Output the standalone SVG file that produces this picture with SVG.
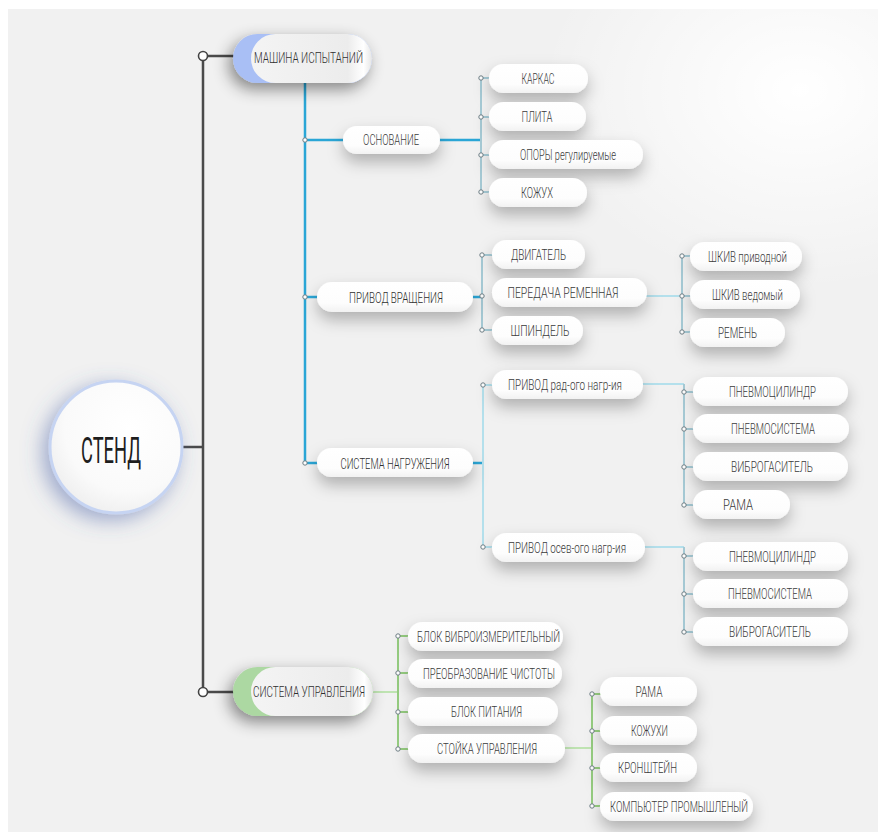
<svg xmlns="http://www.w3.org/2000/svg" width="878" height="832" viewBox="0 0 878 832">
<style>
.t{font-family:Roboto,"Liberation Sans",sans-serif;font-size:14px;font-weight:300;fill:#3a3a3a;text-anchor:middle}
.t1{font-size:15px;fill:#2e2e2e}
.ts{font-size:37px;fill:#1e1e1e;font-weight:400}
.pill{fill:url(#pg);filter:url(#sh)}
.dot{fill:#fff;stroke:#6d7d84;stroke-width:1}
.big{fill:#fff;stroke:#444;stroke-width:1.6}
.main{stroke:#4a4a4a;stroke-width:2.5;fill:none}
.blue{stroke:#2aa6d6;stroke-width:2.5;fill:none}
.lb{stroke:#a6cad5;stroke-width:2;fill:none}
.cy{stroke:#b4e0ec;stroke-width:2;fill:none}
.gr{stroke:#95cc80;stroke-width:2;fill:none}
.lg{stroke:#bfe4b2;stroke-width:2;fill:none}
</style>
<defs>
<linearGradient id="pg" x1="0" y1="0" x2="0" y2="1">
<stop offset="0" stop-color="#ffffff"/>
<stop offset="0.7" stop-color="#fdfdfd"/>
<stop offset="1" stop-color="#f2f2f2"/>
</linearGradient>
<linearGradient id="lg1" x1="0" y1="0" x2="1" y2="0">
<stop offset="0" stop-color="#f4f4f4"/>
<stop offset="0.8" stop-color="#ececec"/>
<stop offset="0.93" stop-color="#ffffff"/>
<stop offset="1" stop-color="#e6e6e6"/>
</linearGradient>
<radialGradient id="cg" cx="0.6" cy="0.35" r="0.7">
<stop offset="0" stop-color="#ffffff"/>
<stop offset="0.7" stop-color="#fafafa"/>
<stop offset="1" stop-color="#eeeeee"/>
</radialGradient>
<radialGradient id="bgGlow" cx="0.5" cy="0.5" r="0.5">
<stop offset="0" stop-color="#ffffff" stop-opacity="1"/>
<stop offset="1" stop-color="#ffffff" stop-opacity="0"/>
</radialGradient>
<filter id="sh" x="-40%" y="-80%" width="180%" height="320%">
<feDropShadow dx="0" dy="8" stdDeviation="8" flood-color="#000" flood-opacity="0.27"/>
</filter>
<filter id="sh1" x="-40%" y="-80%" width="180%" height="300%">
<feDropShadow dx="-4" dy="6" stdDeviation="8" flood-color="#000" flood-opacity="0.45"/>
</filter>
<filter id="shc" x="-50%" y="-50%" width="200%" height="200%">
<feDropShadow dx="-6" dy="6" stdDeviation="10" flood-color="#4a63a8" flood-opacity="0.5"/>
</filter>
</defs>
<rect x="0" y="0" width="878" height="832" fill="#ffffff"/>
<rect x="8" y="9" width="870" height="823" fill="#f1f1f1"/>
<ellipse cx="800" cy="90" rx="260" ry="200" fill="url(#bgGlow)"/>

<g id="connectors">
<line class="main" x1="182" y1="447" x2="203" y2="447"/>
<line class="main" x1="203" y1="56" x2="203" y2="692"/>
<line class="main" x1="203" y1="56" x2="236" y2="56" stroke-width="3"/>
<line class="main" x1="203" y1="692" x2="236" y2="692" stroke-width="3"/>
<line class="blue" x1="305" y1="83" x2="305" y2="463"/>
<line class="blue" x1="305" y1="140" x2="345" y2="140" stroke-width="2"/>
<line class="blue" x1="305" y1="297" x2="319" y2="297" stroke-width="2"/>
<line class="blue" x1="305" y1="463" x2="319" y2="463" stroke-width="2"/>
<line class="blue" x1="438" y1="140" x2="481" y2="140" stroke="#45b2d8" stroke-width="2"/>
<line class="lb" x1="481" y1="78" x2="481" y2="192"/>
<line class="lb" x1="481" y1="78" x2="490" y2="78"/>
<line class="lb" x1="481" y1="117" x2="490" y2="117"/>
<line class="lb" x1="481" y1="155" x2="490" y2="155"/>
<line class="lb" x1="481" y1="192" x2="490" y2="192"/>
<line class="blue" x1="471" y1="297" x2="482" y2="297" stroke="#5aaec6" stroke-width="2"/>
<line class="lb" x1="482" y1="255" x2="482" y2="330"/>
<line class="lb" x1="482" y1="255" x2="493" y2="255"/>
<line class="lb" x1="482" y1="330" x2="493" y2="330"/>
<line class="cy" x1="645" y1="296" x2="682" y2="296" stroke-width="3"/>
<line class="lb" x1="682" y1="256" x2="682" y2="332"/>
<line class="lb" x1="682" y1="256" x2="691" y2="256"/>
<line class="lb" x1="682" y1="296" x2="691" y2="296"/>
<line class="lb" x1="682" y1="332" x2="691" y2="332"/>
<line class="blue" x1="471" y1="463" x2="483" y2="463" stroke="#5aaec6" stroke-width="2"/>
<line class="cy" x1="483" y1="385" x2="483" y2="547" stroke-width="1.6"/>
<line class="cy" x1="483" y1="385" x2="493" y2="385"/>
<line class="cy" x1="483" y1="547" x2="493" y2="547"/>
<line class="cy" x1="641" y1="384" x2="684" y2="384"/>
<line class="lb" x1="684" y1="384" x2="684" y2="505"/>
<line class="lb" x1="684" y1="392" x2="694" y2="392"/>
<line class="lb" x1="684" y1="429" x2="694" y2="429"/>
<line class="lb" x1="684" y1="467" x2="694" y2="467"/>
<line class="lb" x1="684" y1="505" x2="694" y2="505"/>
<line class="cy" x1="643" y1="547" x2="684" y2="547"/>
<line class="lb" x1="684" y1="547" x2="684" y2="632"/>
<line class="lb" x1="684" y1="556" x2="694" y2="556"/>
<line class="lb" x1="684" y1="594" x2="694" y2="594"/>
<line class="lb" x1="684" y1="632" x2="694" y2="632"/>
<line class="lg" x1="371" y1="692" x2="398" y2="692"/>
<line class="gr" x1="398" y1="636" x2="398" y2="749"/>
<line class="gr" x1="398" y1="636" x2="409" y2="636"/>
<line class="gr" x1="398" y1="673" x2="409" y2="673"/>
<line class="gr" x1="398" y1="712" x2="409" y2="712"/>
<line class="gr" x1="398" y1="749" x2="409" y2="749"/>
<line class="lg" x1="563" y1="748" x2="592" y2="748" stroke-width="2.5"/>
<line class="gr" x1="592" y1="694" x2="592" y2="806"/>
<line class="gr" x1="592" y1="694" x2="601" y2="694"/>
<line class="gr" x1="592" y1="731" x2="601" y2="731"/>
<line class="gr" x1="592" y1="768" x2="601" y2="768"/>
<line class="gr" x1="592" y1="806" x2="601" y2="806"/>
<circle class="big" cx="203" cy="56" r="4.5"/>
<circle class="big" cx="203" cy="692" r="4.5"/>
<circle class="dot" cx="305" cy="140" r="2.2"/>
<circle class="dot" cx="305" cy="297" r="2.2"/>
<circle class="dot" cx="305" cy="463" r="2.2"/>
<circle class="dot" cx="481" cy="78" r="2.2"/>
<circle class="dot" cx="481" cy="117" r="2.2"/>
<circle class="dot" cx="481" cy="155" r="2.2"/>
<circle class="dot" cx="481" cy="192" r="2.2"/>
<circle class="dot" cx="482" cy="255" r="2.2"/>
<circle class="dot" cx="482" cy="296" r="2.2"/>
<circle class="dot" cx="482" cy="330" r="2.2"/>
<circle class="dot" cx="682" cy="256" r="2.2"/>
<circle class="dot" cx="682" cy="296" r="2.2"/>
<circle class="dot" cx="682" cy="332" r="2.2"/>
<circle class="dot" cx="483" cy="385" r="2.2"/>
<circle class="dot" cx="483" cy="547" r="2.2"/>
<circle class="dot" cx="684" cy="392" r="2.2"/>
<circle class="dot" cx="684" cy="429" r="2.2"/>
<circle class="dot" cx="684" cy="467" r="2.2"/>
<circle class="dot" cx="684" cy="505" r="2.2"/>
<circle class="dot" cx="684" cy="556" r="2.2"/>
<circle class="dot" cx="684" cy="594" r="2.2"/>
<circle class="dot" cx="684" cy="632" r="2.2"/>
<circle class="dot" cx="398" cy="636" r="2.2"/>
<circle class="dot" cx="398" cy="673" r="2.2"/>
<circle class="dot" cx="398" cy="712" r="2.2"/>
<circle class="dot" cx="398" cy="749" r="2.2"/>
<circle class="dot" cx="592" cy="694" r="2.2"/>
<circle class="dot" cx="592" cy="731" r="2.2"/>
<circle class="dot" cx="592" cy="768" r="2.2"/>
<circle class="dot" cx="592" cy="806" r="2.2"/>
</g>

<g id="stend">
<circle cx="116" cy="447" r="66" fill="url(#cg)" stroke="#c6d4f2" stroke-width="3" filter="url(#shc)"/>
<text class="t ts" x="111" y="463" textLength="60" lengthAdjust="spacingAndGlyphs">СТЕНД</text>
</g>

<g id="mashina">
<rect x="233" y="34" width="139" height="49" rx="24.5" fill="#a9bff5" filter="url(#sh1)"/>
<rect x="251" y="34" width="121" height="49" rx="24.5" fill="url(#lg1)"/>
<text class="t t1" x="308.5" y="62.5" textLength="109" lengthAdjust="spacingAndGlyphs">МАШИНА ИСПЫТАНИЙ</text>
</g>

<g id="upravlenie">
<rect x="233" y="667" width="140" height="49" rx="24.5" fill="#acd8a2" filter="url(#sh1)"/>
<rect x="251" y="667" width="122" height="49" rx="24.5" fill="url(#lg1)"/>
<text class="t t1" x="309" y="696.5" textLength="112" lengthAdjust="spacingAndGlyphs">СИСТЕМА УПРАВЛЕНИЯ</text>
</g>

<g id="osnovanie"><rect class="pill" x="343" y="126" width="97" height="28" rx="14"/><text class="t" x="391" y="145" textLength="56" lengthAdjust="spacingAndGlyphs">ОСНОВАНИЕ</text></g>
<g id="privod"><rect class="pill" x="317" y="282" width="156" height="30" rx="15"/><text class="t t1" x="396" y="302.5" textLength="94" lengthAdjust="spacingAndGlyphs">ПРИВОД ВРАЩЕНИЯ</text></g>
<g id="nagruzh"><rect class="pill" x="317" y="448" width="156" height="29" rx="14.5"/><text class="t t1" x="395" y="468.5" textLength="109" lengthAdjust="spacingAndGlyphs">СИСТЕМА НАГРУЖЕНИЯ</text></g>

<g id="karkas"><rect class="pill" x="489" y="64" width="99" height="29" rx="14.5"/><text class="t" x="538" y="83.5" textLength="33" lengthAdjust="spacingAndGlyphs">КАРКАС</text></g>
<g id="plita"><rect class="pill" x="489" y="102" width="97" height="29" rx="14.5"/><text class="t" x="537" y="121.5" textLength="31" lengthAdjust="spacingAndGlyphs">ПЛИТА</text></g>
<g id="opory"><rect class="pill" x="489" y="140" width="154" height="29" rx="14.5"/><text class="t" x="568" y="159.5" textLength="96" lengthAdjust="spacingAndGlyphs">ОПОРЫ регулируемые</text></g>
<g id="kozhuh"><rect class="pill" x="489" y="178" width="98" height="29" rx="14.5"/><text class="t" x="537" y="197.5" textLength="32" lengthAdjust="spacingAndGlyphs">КОЖУХ</text></g>

<g id="dvigatel"><rect class="pill" x="492" y="240" width="93" height="29" rx="14.5"/><text class="t" x="538.5" y="259.5" textLength="55" lengthAdjust="spacingAndGlyphs">ДВИГАТЕЛЬ</text></g>
<g id="peredacha"><rect class="pill" x="492" y="278" width="155" height="29" rx="14.5"/><text class="t" x="563" y="297.5" textLength="111" lengthAdjust="spacingAndGlyphs">ПЕРЕДАЧА РЕМЕННАЯ</text></g>
<g id="shpindel"><rect class="pill" x="492" y="316" width="91" height="29" rx="14.5"/><text class="t" x="540" y="335.5" textLength="59" lengthAdjust="spacingAndGlyphs">ШПИНДЕЛЬ</text></g>

<g id="shkiv1"><rect class="pill" x="690" y="242" width="112" height="29" rx="14.5"/><text class="t" x="747.5" y="261.5" textLength="79" lengthAdjust="spacingAndGlyphs">ШКИВ приводной</text></g>
<g id="shkiv2"><rect class="pill" x="690" y="280" width="110" height="29" rx="14.5"/><text class="t" x="747.5" y="299.5" textLength="71" lengthAdjust="spacingAndGlyphs">ШКИВ ведомый</text></g>
<g id="remen"><rect class="pill" x="690" y="318" width="95" height="29" rx="14.5"/><text class="t" x="737.5" y="337.5" textLength="39" lengthAdjust="spacingAndGlyphs">РЕМЕНЬ</text></g>

<g id="rad"><rect class="pill" x="492" y="370" width="151" height="29" rx="14.5"/><text class="t" x="565" y="389.5" textLength="114" lengthAdjust="spacingAndGlyphs">ПРИВОД рад-ого нагр-ия</text></g>
<g id="osev"><rect class="pill" x="492" y="533" width="153" height="29" rx="14.5"/><text class="t" x="567" y="552.5" textLength="118" lengthAdjust="spacingAndGlyphs">ПРИВОД осев-ого нагр-ия</text></g>

<g id="pnc1"><rect class="pill" x="693" y="377" width="155" height="29" rx="14.5"/><text class="t" x="772.5" y="396.5" textLength="87" lengthAdjust="spacingAndGlyphs">ПНЕВМОЦИЛИНДР</text></g>
<g id="pns1"><rect class="pill" x="693" y="414" width="156" height="29" rx="14.5"/><text class="t" x="773" y="433.5" textLength="84" lengthAdjust="spacingAndGlyphs">ПНЕВМОСИСТЕМА</text></g>
<g id="vib1"><rect class="pill" x="693" y="452" width="155" height="29" rx="14.5"/><text class="t" x="772" y="471.5" textLength="82" lengthAdjust="spacingAndGlyphs">ВИБРОГАСИТЕЛЬ</text></g>
<g id="rama1"><rect class="pill" x="693" y="490" width="97" height="29" rx="14.5"/><text class="t" x="738" y="509.5" textLength="30" lengthAdjust="spacingAndGlyphs">РАМА</text></g>

<g id="pnc2"><rect class="pill" x="693" y="542" width="155" height="29" rx="14.5"/><text class="t" x="772.5" y="561.5" textLength="87" lengthAdjust="spacingAndGlyphs">ПНЕВМОЦИЛИНДР</text></g>
<g id="pns2"><rect class="pill" x="693" y="579" width="155" height="29" rx="14.5"/><text class="t" x="770" y="598.5" textLength="84" lengthAdjust="spacingAndGlyphs">ПНЕВМОСИСТЕМА</text></g>
<g id="vib2"><rect class="pill" x="693" y="617" width="155" height="29" rx="14.5"/><text class="t" x="770" y="636.5" textLength="82" lengthAdjust="spacingAndGlyphs">ВИБРОГАСИТЕЛЬ</text></g>

<g id="blokvib"><rect class="pill" x="408" y="622" width="155" height="29" rx="14.5"/><text class="t" x="488.5" y="641.5" textLength="143" lengthAdjust="spacingAndGlyphs">БЛОК ВИБРОИЗМЕРИТЕЛЬНЫЙ</text></g>
<g id="preob"><rect class="pill" x="408" y="659" width="154" height="29" rx="14.5"/><text class="t" x="489" y="678.5" textLength="132" lengthAdjust="spacingAndGlyphs">ПРЕОБРАЗОВАНИЕ ЧИСТОТЫ</text></g>
<g id="blokpit"><rect class="pill" x="408" y="697" width="150" height="29" rx="14.5"/><text class="t" x="486.5" y="716.5" textLength="71" lengthAdjust="spacingAndGlyphs">БЛОК ПИТАНИЯ</text></g>
<g id="stoika"><rect class="pill" x="408" y="734" width="157" height="29" rx="14.5"/><text class="t" x="487" y="753.5" textLength="100" lengthAdjust="spacingAndGlyphs">СТОЙКА УПРАВЛЕНИЯ</text></g>

<g id="rama2"><rect class="pill" x="600" y="677" width="97" height="29" rx="14.5"/><text class="t" x="649" y="696.5" textLength="27" lengthAdjust="spacingAndGlyphs">РАМА</text></g>
<g id="kozhuhi"><rect class="pill" x="600" y="716" width="97" height="29" rx="14.5"/><text class="t" x="649.5" y="735.5" textLength="37" lengthAdjust="spacingAndGlyphs">КОЖУХИ</text></g>
<g id="kronsh"><rect class="pill" x="600" y="753" width="97" height="29" rx="14.5"/><text class="t" x="647.5" y="772.5" textLength="59" lengthAdjust="spacingAndGlyphs">КРОНШТЕЙН</text></g>
<g id="komp"><rect class="pill" x="600" y="792" width="153" height="29" rx="14.5"/><text class="t" x="679" y="811.5" textLength="138" lengthAdjust="spacingAndGlyphs">КОМПЬЮТЕР ПРОМЫШЛЕНЫЙ</text></g>
</svg>
